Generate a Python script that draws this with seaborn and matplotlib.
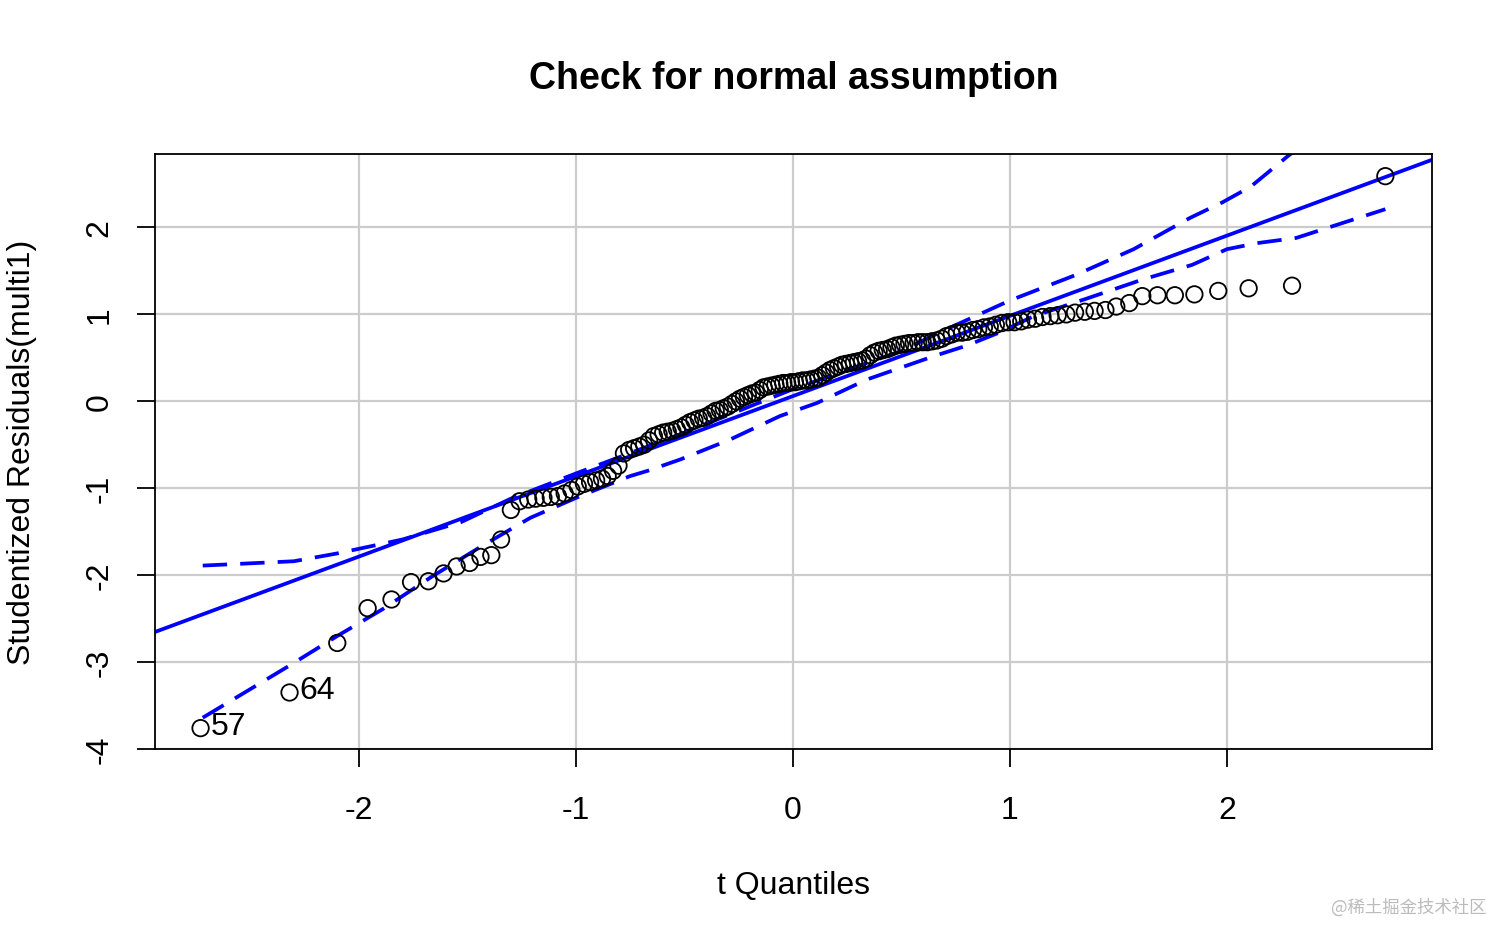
import numpy as np
import pandas as pd
import matplotlib
matplotlib.use("Agg")
import matplotlib.pyplot as plt
import seaborn as sns

# theoretical t quantiles (x) and sorted studentized residuals (y)
t_quantiles = [
    -2.73, -2.32, -2.10, -1.96, -1.85, -1.76, -1.68, -1.61, -1.55, -1.49,
    -1.44, -1.39, -1.345, -1.30, -1.26, -1.22, -1.186, -1.15, -1.116, -1.083,
    -1.052, -1.021, -0.992, -0.963, -0.935, -0.907, -0.880, -0.854, -0.829, -0.804,
    -0.779, -0.755, -0.732, -0.708, -0.686, -0.663, -0.641, -0.619, -0.598, -0.577,
    -0.556, -0.535, -0.514, -0.494, -0.474, -0.454, -0.434, -0.414, -0.395, -0.375,
    -0.356, -0.337, -0.319, -0.300, -0.281, -0.263, -0.244, -0.226, -0.208, -0.189,
    -0.171, -0.153, -0.135, -0.117, -0.099, -0.081, -0.063, -0.045, -0.027, -0.009,
    0.009, 0.027, 0.045, 0.063, 0.081, 0.099, 0.117, 0.135, 0.153, 0.171,
    0.189, 0.208, 0.226, 0.244, 0.263, 0.281, 0.300, 0.319, 0.337, 0.356,
    0.375, 0.395, 0.414, 0.434, 0.454, 0.474, 0.494, 0.514, 0.535, 0.556,
    0.577, 0.598, 0.619, 0.641, 0.663, 0.686, 0.708, 0.732, 0.755, 0.779,
    0.804, 0.829, 0.854, 0.880, 0.907, 0.935, 0.963, 0.992, 1.021, 1.052,
    1.083, 1.116, 1.150, 1.186, 1.22, 1.26, 1.30, 1.345, 1.39, 1.44,
    1.49, 1.55, 1.61, 1.68, 1.76, 1.85, 1.96, 2.10, 2.30, 2.73,
]
stud_resid = [
    -3.76, -3.35, -2.78, -2.38, -2.28, -2.08, -2.07, -1.98, -1.90, -1.86,
    -1.79, -1.77, -1.59, -1.25, -1.15, -1.13, -1.12, -1.11, -1.10, -1.09,
    -1.06, -1.02, -0.98, -0.95, -0.93, -0.91, -0.89, -0.86, -0.80, -0.74,
    -0.60, -0.56, -0.54, -0.52, -0.50, -0.45, -0.40, -0.38, -0.36, -0.35,
    -0.34, -0.32, -0.30, -0.27, -0.24, -0.22, -0.20, -0.19, -0.17, -0.14,
    -0.11, -0.10, -0.08, -0.06, -0.03, 0.00, 0.03, 0.05, 0.07, 0.09,
    0.10, 0.13, 0.16, 0.17, 0.18, 0.19, 0.20, 0.21, 0.21, 0.22,
    0.22, 0.23, 0.24, 0.24, 0.25, 0.26, 0.27, 0.30, 0.33, 0.36,
    0.38, 0.40, 0.42, 0.43, 0.44, 0.45, 0.46, 0.47, 0.49, 0.53,
    0.56, 0.58, 0.59, 0.60, 0.62, 0.64, 0.65, 0.66, 0.67, 0.67,
    0.68, 0.68, 0.68, 0.69, 0.70, 0.72, 0.75, 0.77, 0.79, 0.79,
    0.80, 0.82, 0.83, 0.85, 0.86, 0.88, 0.90, 0.91, 0.91, 0.92,
    0.94, 0.95, 0.97, 0.98, 0.99, 1.00, 1.02, 1.03, 1.04, 1.05,
    1.09, 1.13, 1.21, 1.22, 1.22, 1.23, 1.27, 1.30, 1.33, 2.59,
]

# labelled outliers (observation ids)
outlier_ids = ["57", "64"]
outlier_x = [-2.73, -2.32]
outlier_y = [-3.76, -3.35]

# reference line
fit_intercept = 0.06
fit_slope = 0.923

# confidence envelope
upper_x = [-2.72, -2.30, -2.10, -1.80, -1.53, -1.30, -1.00, -0.50, 0.00, 0.50,
           0.70, 1.00, 1.30, 1.57, 1.83, 1.98, 2.11, 2.29, 2.73]
upper_y = [-1.89, -1.84, -1.75, -1.59, -1.39, -1.12, -0.83, -0.36, 0.14, 0.58,
           0.82, 1.16, 1.45, 1.75, 2.11, 2.29, 2.47, 2.84, 3.50]
lower_x = [-2.72, -2.32, -2.10, -1.89, -1.66, -1.43, -1.21, -0.98, -0.75, -0.67,
           -0.52, -0.29, -0.06, 0.11, 0.34, 0.65, 0.80, 0.95, 1.11, 1.34,
           1.61, 1.84, 2.00, 2.14, 2.32, 2.73]
lower_y = [-3.64, -3.04, -2.70, -2.39, -2.01, -1.66, -1.34, -1.09, -0.86, -0.80,
           -0.67, -0.44, -0.17, -0.02, 0.25, 0.52, 0.64, 0.79, 0.98, 1.17,
           1.40, 1.57, 1.75, 1.82, 1.88, 2.21]

x_ticks = [-2, -1, 0, 1, 2]
y_ticks = [-4, -3, -2, -1, 0, 1, 2]

sns.set_style("white")
plt.rcParams["font.family"] = ["Liberation Sans", "DejaVu Sans"]
plt.rcParams["text.color"] = "black"
plt.rcParams["axes.labelcolor"] = "black"
plt.rcParams["xtick.color"] = "black"
plt.rcParams["ytick.color"] = "black"

fig = plt.figure(figsize=(15.12, 9.45), dpi=100)
ax = fig.add_axes([155 / 1512, 1 - 750 / 945, (1432 - 155) / 1512, (750 - 155) / 945])

blue = "#0000FF"
lw = 2.7
ax.axline((0, fit_intercept), slope=fit_slope, color=blue, lw=lw, zorder=2)
sns.lineplot(x=upper_x, y=upper_y, ax=ax, color=blue, lw=lw, sort=False,
             zorder=2).lines[-1].set_dashes((6.5, 3.5))
sns.lineplot(x=lower_x, y=lower_y, ax=ax, color=blue, lw=lw, sort=False,
             zorder=2).lines[-1].set_dashes((6.5, 3.5))

df = pd.DataFrame({"q": t_quantiles, "r": stud_resid})
sns.scatterplot(data=df, x="q", y="r", ax=ax, marker="o", s=140,
                facecolors="none", edgecolor="black", linewidth=1.3, zorder=3)

for lab, lx, ly in zip(outlier_ids, outlier_x, outlier_y):
    ax.text(lx + 0.045, ly + 0.03, lab, fontsize=23, ha="left", va="center", zorder=4)

ax.set_xlim(-2.94, 2.945)
ax.set_ylim(-4.0, 2.845)
ax.set_xticks(x_ticks)
ax.set_yticks(y_ticks)
ax.set_xticklabels([str(v) for v in x_ticks])
ax.set_yticklabels([str(v) for v in y_ticks], rotation=90, va="center")
ax.grid(True, color="#CCCCCC", lw=1.6, zorder=0)
ax.set_axisbelow(True)

for sp in ax.spines.values():
    sp.set_color("black")
    sp.set_linewidth(1.3)
ax.tick_params(axis="both", which="major", direction="out", length=13, width=1.3,
               color="black", labelsize=23, bottom=True, left=True)
ax.tick_params(axis="x", pad=20)
ax.tick_params(axis="y", pad=16)

ax.set_xlabel("t Quantiles", fontsize=23)
ax.xaxis.label.set_va("center")
ax.xaxis.set_label_coords(0.5, (750 - 886) / 595)
ax.set_ylabel("Studentized Residuals(multi1)", fontsize=23)
ax.yaxis.label.set_va("center")
ax.yaxis.set_label_coords((22 - 155) / 1277, 0.5)

ax.set_title("Check for normal assumption", fontsize=27, fontweight="bold",
             y=(750 - 79) / 595, va="center", pad=0)

fig.text(1487 / 1512, 1 - 908 / 945, "@稀土掘金技术社区", fontsize=12.5, color="#BBBBBB",
         ha="right", va="center", family=["Noto Sans CJK SC", "DejaVu Sans"])

fig.savefig("out.png", dpi=100)
